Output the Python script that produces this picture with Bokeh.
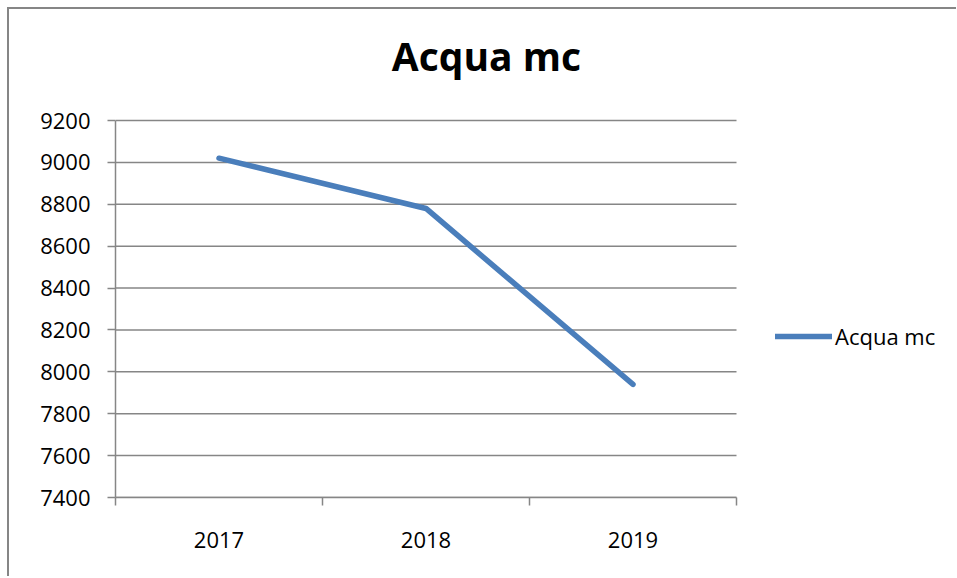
from bokeh.plotting import figure
from bokeh.models import FixedTicker, Range1d, Legend, LegendItem, Label, Spacer
from bokeh.layouts import row, column
from bokeh.embed import file_html
from bokeh.resources import INLINE

years = ["2017", "2018", "2019"]
acqua_mc = [9020, 8780, 7940]
y_ticks = [7400, 7600, 7800, 8000, 8200, 8400, 8600, 8800, 9000, 9200]
series_name = "Acqua mc"
chart_title = "Acqua mc"

xs = list(range(1, len(years) + 1))
x_lo, x_hi = xs[0] - 0.5, xs[-1] + 0.5
y_lo, y_hi = y_ticks[0], y_ticks[-1]
GRAY = "#868686"
FONT = "Open Sans"

# page layout (px): canvas starts at 9,9 ; frame = 115..956 x 9..497
# category area: x 115..736, value area: y 120..497
x_end = x_lo + (x_hi - x_lo) * (956 - 115) / (736 - 115)
y_end = y_lo + (y_hi - y_lo) * (497 - 9) / (497 - 120)

p = figure(width=947, height=567, output_backend="svg", toolbar_location=None,
           x_range=Range1d(x_lo, x_end), y_range=Range1d(y_lo, y_end),
           min_border_left=106, min_border_right=0, min_border_top=0, min_border_bottom=79)
p.outline_line_color = None
p.background_fill_color = "white"
p.border_fill_color = "white"

# horizontal gridlines limited to the category area
p.segment(x0=[x_lo] * len(y_ticks), x1=[x_hi] * len(y_ticks), y0=y_ticks, y1=y_ticks,
          line_color=GRAY, line_width=1.5)

r = p.line(xs, acqua_mc, line_color="#4A7EBB", line_width=5.5, line_cap="round", line_join="round")

p.add_layout(Label(x=371, y=442, x_units="screen", y_units="screen", text=chart_title,
                   text_align="center", text_baseline="alphabetic", text_font=FONT,
                   text_font_size="39px", text_font_style="bold", text_color="black"))

# x axis
p.xaxis.bounds = (x_lo, x_hi)
p.xaxis.ticker = FixedTicker(ticks=xs, minor_ticks=[x - 0.5 for x in xs] + [x_hi])
p.xaxis.major_label_overrides = {x: y for x, y in zip(xs, years)}
p.xaxis.major_tick_line_color = None
p.xaxis.major_tick_out = 0
p.xaxis.major_tick_in = 0
p.xaxis.minor_tick_line_color = GRAY
p.xaxis.minor_tick_out = 8
p.xaxis.minor_tick_in = 0
p.xaxis.minor_tick_line_width = 1.5
p.xaxis.axis_line_color = GRAY
p.xaxis.axis_line_width = 1.5
p.xaxis.major_label_standoff = 26
p.xaxis.major_label_text_font = FONT
p.xaxis.major_label_text_font_size = "22px"
p.xaxis.major_label_text_color = "black"
p.xgrid.grid_line_color = None

# y axis
p.yaxis.bounds = (y_lo, y_hi)
p.yaxis.ticker = FixedTicker(ticks=y_ticks)
p.yaxis.major_tick_line_color = GRAY
p.yaxis.major_tick_out = 8
p.yaxis.major_tick_in = 0
p.yaxis.major_tick_line_width = 1.5
p.yaxis.minor_tick_line_color = None
p.yaxis.axis_line_color = GRAY
p.yaxis.axis_line_width = 1.5
p.yaxis.major_label_standoff = 17
p.yaxis.major_label_text_font = FONT
p.yaxis.major_label_text_font_size = "22px"
p.yaxis.major_label_text_color = "black"
p.ygrid.grid_line_color = None

legend = Legend(items=[LegendItem(label=series_name, renderers=[r])], location=(660, 146),
                border_line_color=None, background_fill_alpha=0,
                glyph_width=57, glyph_height=20, label_standoff=3, padding=0, margin=0,
                label_text_font=FONT, label_text_font_size="22px", label_text_color="black")
p.add_layout(legend, "center")

# outer chart border (left and top edges visible in the crop)
top_bar = Spacer(width=949, height=2, styles={"background-color": GRAY})
left_bar = Spacer(width=2, height=567, styles={"background-color": GRAY})
page = row(Spacer(width=7, height=576),
           column(Spacer(width=949, height=7), top_bar, row(left_bar, p, spacing=0), spacing=0),
           spacing=0)

open("out.html", "w").write(file_html(page, INLINE))
